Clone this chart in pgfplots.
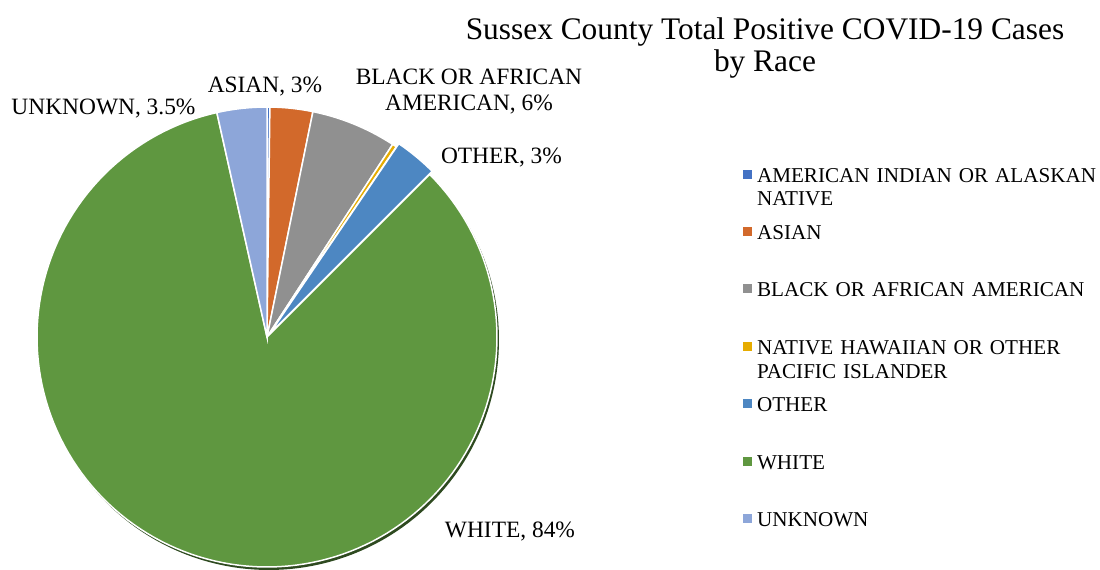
\documentclass[border=0pt]{standalone}
\usepackage{pgfplots}
\pgfplotsset{compat=1.18}
\usepackage{pgfplotstable}
\usepackage{fontspec}
\setmainfont{Liberation Serif}

\definecolor{slice0}{HTML}{4472C4}
\definecolor{slice1}{HTML}{D2692B}
\definecolor{slice2}{HTML}{909090}
\definecolor{slice3}{HTML}{E6AC00}
\definecolor{slice4}{HTML}{4D87C2}
\definecolor{slice5}{HTML}{5F9740}
\definecolor{slice6}{HTML}{8DA6D9}
\definecolor{shadowgreen}{HTML}{2E4A20}

% share of cases in percent, explode offset in px
\pgfplotstableread{
value explode
0.2 0
3.0 0
6.0 0
0.3 0
3.0 4
84.0 0
3.5 0
}\racedata

\newcommand\lblfont{\fontsize{23.5}{26}\selectfont}

\begin{document}
\begin{tikzpicture}
\useasboundingbox (0,0) rectangle (1100bp,570bp);
\begin{axis}[
    scale only axis,
    x=1bp, y=1bp,
    xmin=0, xmax=1100, ymin=0, ymax=570,
    hide axis,
    legend image code/.code={\fill[#1,draw=none] (0bp,3.5bp) rectangle (9bp,12.5bp);},
    legend entries={
        {AMERICAN INDIAN OR ALASKAN\\NATIVE},
        ASIAN,
        BLACK OR AFRICAN AMERICAN,
        {NATIVE HAWAIIAN OR OTHER\\PACIFIC ISLANDER},
        OTHER,
        WHITE,
        UNKNOWN},
    legend style={
        at={(0.6755,0.7070)}, anchor=north west,
        draw=none, fill=none, inner sep=0pt, outer sep=0pt,
        row sep=14.4bp, column sep=5bp,
        font=\fontsize{21.2}{24}\selectfont,
        cells={anchor=base west},
        % same box for every entry, so first lines are evenly spaced
        nodes={inner sep=0pt, text height=15bp, text depth=28bp,
               text width=350bp, align=left},
    },
]
\pgfmathsetmacro\cum{0}
\pgfplotsforeachungrouped \i in {0,...,6}{%
    \pgfplotstablegetelem{\i}{value}\of\racedata
    \let\val=\pgfplotsretval
    \pgfplotstablegetelem{\i}{explode}\of\racedata
    \let\ex=\pgfplotsretval
    \pgfmathsetmacro\aStart{90-3.6*\cum}
    \pgfmathsetmacro\cum{\cum+\val}
    \pgfmathsetmacro\aEnd{90-3.6*\cum}
    \pgfmathsetmacro\aMid{(\aStart+\aEnd)/2}
    \pgfmathsetmacro\cx{267+\ex*cos(\aMid)}
    \pgfmathsetmacro\cy{233+\ex*sin(\aMid)}
    \ifnum\i=5
        \pgfmathsetmacro\sx{\cx+2}
        \pgfmathsetmacro\sy{\cy-3}
        \edef\temp{\noexpand\addplot[forget plot, fill=shadowgreen, draw=none,
            domain=\aEnd:\aStart, samples=150]
            ({\sx+230*cos(x)},{\sy+230*sin(x)}) -- (axis cs:\sx,\sy) -- cycle;}
        \temp
    \fi
    \edef\temp{\noexpand\addplot[fill=slice\i, draw=white, line width=1.5bp,
        domain=\aEnd:\aStart, samples=150]
        ({\cx+230*cos(x)},{\cy+230*sin(x)}) -- (axis cs:\cx,\cy) -- cycle;}
    \temp
}

% title
\node[anchor=base, font=\fontsize{31.5}{33}\selectfont] at (axis cs:765,530) {Sussex County Total Positive COVID-19 Cases};
\node[anchor=base, font=\fontsize{31.5}{33}\selectfont] at (axis cs:765,498) {by Race};

% data labels
\node[anchor=base, font=\lblfont] at (axis cs:103.5,455) {UNKNOWN, 3.5\%};
\node[anchor=base, font=\lblfont] at (axis cs:265,477) {ASIAN, 3\%};
\node[anchor=base, font=\lblfont] at (axis cs:469,485) {BLACK OR AFRICAN};
\node[anchor=base, font=\lblfont] at (axis cs:469,459) {AMERICAN, 6\%};
\node[anchor=base, font=\lblfont] at (axis cs:501.5,406) {OTHER, 3\%};
\node[anchor=base, font=\lblfont] at (axis cs:510,33) {WHITE, 84\%};
\end{axis}
\end{tikzpicture}
\end{document}
